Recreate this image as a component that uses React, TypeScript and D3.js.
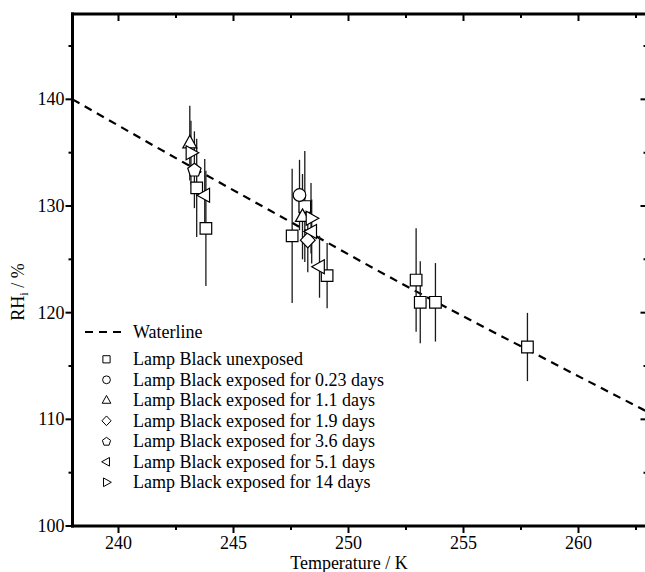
import React from "react";
import * as d3 from "d3";

// ---- data ----
const xMajorTicks = [240, 245, 250, 255, 260];
const xMinorTicks = [242.5, 247.5, 252.5, 257.5, 262.5];
const yMajorTicks = [100, 110, 120, 130, 140];
const yMinorTicks = [105, 115, 125, 135, 145];

const waterT = [238, 242.65, 246.57, 252.29, 257.58, 263];
const waterRH = [140.0, 134.3, 129.6, 122.75, 116.75, 110.7];

const unexposedT = [243.4, 243.8, 247.55, 248.1, 249.07, 252.94, 253.12, 253.78, 257.78];
const unexposedRH = [131.7, 127.9, 127.2, 129.95, 123.47, 123.06, 120.97, 120.97, 116.78];
const unexposedErr = [4.6, 5.4, 6.3, 5.2, 3.05, 4.85, 3.84, 3.68, 3.2];

const d023T = [247.87];
const d023RH = [131.03];
const d023Err = [3.3];

const d11T = [243.1, 248.0];
const d11RH = [135.9, 129.0];
const d11Err = [3.5, 4.0];

const d19T = [248.23];
const d19RH = [126.8];
const d19Err = [3.0];

const d36T = [243.3];
const d36RH = [133.4];
const d36Err = [3.6];

const d51T = [243.75, 248.4, 248.74];
const d51RH = [131.0, 127.6, 124.3];
const d51Err = [3.4, 3.0, 2.9];

const d14T = [243.15, 248.37];
const d14RH = [135.0, 128.85];
const d14Err = [3.0, 3.3];

const legendLabels = [
  "Waterline",
  "Lamp Black unexposed",
  "Lamp Black exposed for 0.23 days",
  "Lamp Black exposed for 1.1 days",
  "Lamp Black exposed for 1.9 days",
  "Lamp Black exposed for 3.6 days",
  "Lamp Black exposed for 5.1 days",
  "Lamp Black exposed for 14 days",
];

type Shape = "square" | "circle" | "up" | "diamond" | "pentagon" | "left" | "right";

const series: { shape: Shape; T: number[]; RH: number[]; err: number[] }[] = [
  { shape: "square", T: unexposedT, RH: unexposedRH, err: unexposedErr },
  { shape: "circle", T: d023T, RH: d023RH, err: d023Err },
  { shape: "up", T: d11T, RH: d11RH, err: d11Err },
  { shape: "diamond", T: d19T, RH: d19RH, err: d19Err },
  { shape: "pentagon", T: d36T, RH: d36RH, err: d36Err },
  { shape: "left", T: d51T, RH: d51RH, err: d51Err },
  { shape: "right", T: d14T, RH: d14RH, err: d14Err },
];

const W = 645;
const H = 572;
const FONT = "Liberation Serif, Times New Roman, DejaVu Serif, serif";
const textStyle = { fontFamily: FONT, fontSize: "18px" };

function shapePath(shape: Shape, k: number): string {
  const p = (pts: [number, number][]) =>
    "M" + pts.map(([a, b]) => `${a * k},${b * k}`).join("L") + "Z";
  switch (shape) {
    case "square":
      return p([[-5.8, -5.8], [5.8, -5.8], [5.8, 5.8], [-5.8, 5.8]]);
    case "circle": {
      const r = 6.3 * k;
      return `M${r},0A${r},${r},0,1,1,${-r},0A${r},${r},0,1,1,${r},0Z`;
    }
    case "up":
      return p([[0, -7.8], [7, 4.8], [-7, 4.8]]);
    case "diamond":
      return p([[0, -7.8], [7.4, 0], [0, 7.8], [-7.4, 0]]);
    case "pentagon": {
      const r = 7;
      const pts: [number, number][] = d3.range(5).map((i) => {
        const a = -Math.PI / 2 + (i * 2 * Math.PI) / 5;
        return [r * Math.cos(a), r * Math.sin(a) + 0.6];
      });
      return p(pts);
    }
    case "left":
      return p([[-7.8, 0], [4.8, -7], [4.8, 7]]);
    case "right":
      return p([[7.8, 0], [-4.8, -7], [-4.8, 7]]);
  }
}

export default function App() {
  const x = d3.scaleLinear().domain([238, 263]).range([72.5, 647.5]);
  const y = d3.scaleLinear().domain([100, 148]).range([526, 14]);

  const line = d3
    .line<number>()
    .x((_, i) => x(waterT[i]))
    .y((d) => y(d))
    .curve(d3.curveMonotoneX);

  const [x0, x1] = x.range();
  const [yb, yt] = y.range();

  const legendX = 85;
  const legendRows = [332, 359.3, 379.8, 400.3, 420.8, 441.3, 461.8, 482.3];

  return (
    <svg
      width={W}
      height={H}
      style={{ position: "absolute", left: 0, top: 0, background: "#fff", fontFamily: FONT }}
    >
      <defs>
        <clipPath id="plot">
          <rect x={x0} y={yt} width={x1 - x0} height={yb - yt} />
        </clipPath>
      </defs>

      {/* waterline */}
      <path
        d={line(waterRH) || ""}
        fill="none"
        stroke="#000"
        strokeWidth={2.2}
        strokeDasharray="8,6"
        clipPath="url(#plot)"
      />

      {/* error bars */}
      {series.map((s, si) =>
        s.T.map((t, i) => (
          <line
            key={`e${si}-${i}`}
            x1={x(t)}
            x2={x(t)}
            y1={y(s.RH[i] - s.err[i])}
            y2={y(s.RH[i] + s.err[i])}
            stroke="#1a1a1a"
            strokeWidth={1.3}
          />
        ))
      )}

      {/* markers */}
      {series.map((s, si) =>
        s.T.map((t, i) => (
          <path
            key={`m${si}-${i}`}
            transform={`translate(${x(t)},${y(s.RH[i])})`}
            d={shapePath(s.shape, 1)}
            fill="#fff"
            stroke="#000"
            strokeWidth={1.2}
          />
        ))
      )}

      {/* frame */}
      <line x1={x0} x2={x0} y1={yt - 1.5} y2={yb + 1.5} stroke="#000" strokeWidth={3} />
      <line x1={x0 - 1.5} x2={x1 + 1.5} y1={yb} y2={yb} stroke="#000" strokeWidth={3} />
      <line x1={x0 - 1.5} x2={x1 + 1.5} y1={yt} y2={yt} stroke="#000" strokeWidth={3} />
      <line x1={x1} x2={x1} y1={yt - 1.5} y2={yb + 1.5} stroke="#000" strokeWidth={3} />

      {/* x ticks */}
      {xMajorTicks.map((t) => (
        <g key={`xt${t}`}>
          <line x1={x(t)} x2={x(t)} y1={yb} y2={yb + 7} stroke="#000" strokeWidth={2} />
          <line x1={x(t)} x2={x(t)} y1={yt} y2={yt + 7} stroke="#000" strokeWidth={2} />
          <text x={x(t)} y={yb + 23} textAnchor="middle" style={textStyle}>
            {t}
          </text>
        </g>
      ))}
      {xMinorTicks.map((t) => (
        <g key={`xm${t}`}>
          <line x1={x(t)} x2={x(t)} y1={yb} y2={yb + 4} stroke="#000" strokeWidth={2} />
          <line x1={x(t)} x2={x(t)} y1={yt} y2={yt + 4} stroke="#000" strokeWidth={2} />
        </g>
      ))}

      {/* y ticks */}
      {yMajorTicks.map((t) => (
        <g key={`yt${t}`}>
          <line x1={x0} x2={x0 - 7} y1={y(t)} y2={y(t)} stroke="#000" strokeWidth={2} />
          <line x1={x1} x2={x1 - 7} y1={y(t)} y2={y(t)} stroke="#000" strokeWidth={2} />
          <text x={x0 - 8} y={y(t) + 6} textAnchor="end" style={textStyle}>
            {t}
          </text>
        </g>
      ))}
      {yMinorTicks.map((t) => (
        <g key={`ym${t}`}>
          <line x1={x0} x2={x0 - 4} y1={y(t)} y2={y(t)} stroke="#000" strokeWidth={2} />
          <line x1={x1} x2={x1 - 4} y1={y(t)} y2={y(t)} stroke="#000" strokeWidth={2} />
        </g>
      ))}

      {/* axis titles */}
      <text x={349} y={569} textAnchor="middle" style={textStyle}>
        Temperature / K
      </text>
      <text
        transform={`translate(24,${292}) rotate(-90)`}
        textAnchor="middle"
        style={textStyle}
      >
        RH
        <tspan style={{ fontSize: "12px" }} dy={4}>i</tspan>
        <tspan dy={-4}> / %</tspan>
      </text>

      {/* legend */}
      <line
        x1={legendX}
        x2={legendX + 38}
        y1={legendRows[0]}
        y2={legendRows[0]}
        stroke="#000"
        strokeWidth={2.2}
        strokeDasharray="8,6"
      />
      {series.map((s, si) => (
        <path
          key={`l${si}`}
          transform={`translate(${legendX + 21.5},${legendRows[si + 1]})`}
          d={shapePath(s.shape, 0.62)}
          fill="#fff"
          stroke="#000"
          strokeWidth={1}
        />
      ))}
      {legendLabels.map((lab, i) => (
        <text key={`lt${i}`} x={legendX + 48} y={legendRows[i] + 6} style={textStyle}>
          {lab}
        </text>
      ))}
    </svg>
  );
}
